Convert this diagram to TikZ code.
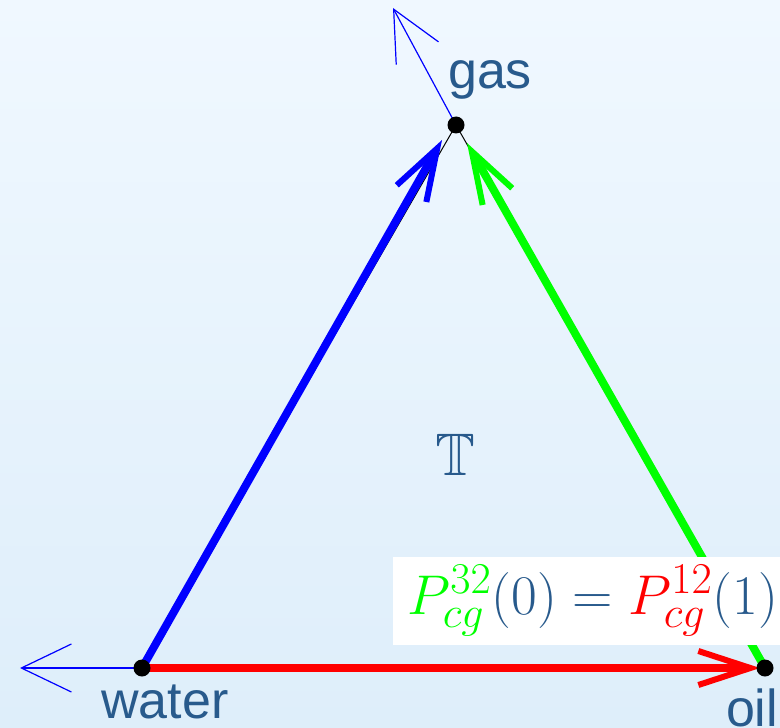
\RequirePackage{fix-cm}
\documentclass[tikz,border=0pt]{standalone}
\usepackage{amsmath,amssymb}
\usepackage{fontspec}
\setmainfont{Liberation Sans}
\usetikzlibrary{arrows.meta}
\DeclareMathSizes{28}{28}{22}{17}
\definecolor{txtBlue}{RGB}{40,90,140}
\definecolor{bgTop}{RGB}{240,248,255}
\definecolor{bgBot}{RGB}{222,238,250}

\begin{document}
\begin{tikzpicture}[x=0.5pt,y=-0.5pt,
  font=\fontsize{26}{30}\selectfont,
  vtx/.style={circle,fill=black,inner sep=0pt,minimum size=8.5pt},
  lbl/.style={text=txtBlue,inner sep=0pt,anchor=base},
  phase/.style={line width=4pt,-{Straight Barb[length=26pt,width=17pt,line width=3pt]}},
  ax/.style={blue,line width=0.6pt,-{Straight Barb[length=25pt,width=24pt,line width=0.6pt]}}]
  \useasboundingbox (0,0) rectangle (780,727);
  \clip (0,0) rectangle (780,727);
  \shade[top color=bgTop,bottom color=bgBot] (0,0) rectangle (780,727);
  % vertices of the simplex
  \coordinate (w) at (142,668);
  \coordinate (o) at (765,668);
  \coordinate (g) at (456,125);
  \coordinate (wx) at (20,668);
  \coordinate (gx) at (393,8);
  \coordinate (gb) at (442,140);
  \coordinate (gg) at (467,143);
  \coordinate (ot) at (760,668);
  \draw[ax] (w) -- (wx);
  \draw[ax] (g) -- (gx);
  \draw[line width=0.5pt] (w) -- (g) -- (o);
  \draw[phase,blue] (w) -- (gb);
  \draw[phase,green] (o) -- (gg);
  \draw[phase,red] (w) -- (ot);
  \node[fill=white,inner xsep=7pt,inner ysep=4pt,minimum height=44pt,anchor=west,
        font=\fontsize{28}{32}\selectfont,text=txtBlue] (eq) at (393,601)
        {$\textcolor{green}{P^{32}_{cg}}(0)=\textcolor{red}{P^{12}_{cg}}(1)$};
  \node[vtx] (water) at (w) {};
  \node[vtx] (oil) at (o) {};
  \node[vtx] (gas) at (g) {};
  \node[lbl] (wl) at (165,718) {water};
  \node[lbl] (ol) at (752,726) {oil};
  \node[lbl] (gl) at (490,89) {gas};
  \node[text=txtBlue,font=\fontsize{30}{34}\selectfont] (T) at (455,455) {$\mathbb{T}$};
\end{tikzpicture}
\end{document}
